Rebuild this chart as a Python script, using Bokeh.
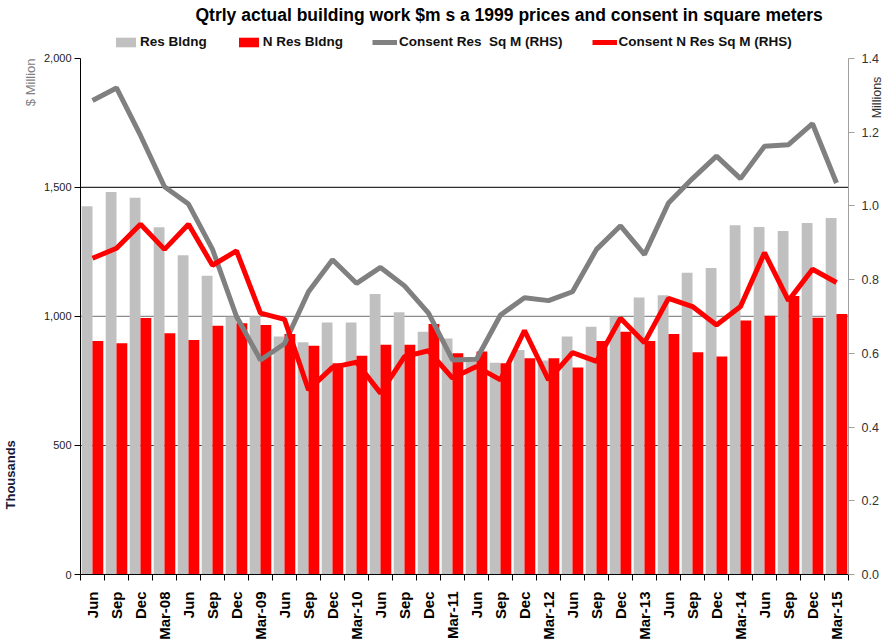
import math
from bokeh.plotting import figure
from bokeh.models import (Range1d, LinearAxis, FixedTicker, NumeralTickFormatter,
                          Span, Title, Legend, LegendItem, ColumnDataSource)
from bokeh.embed import file_html
from bokeh.resources import INLINE

categories = ["Jun", "Sep", "Dec", "Mar-08", "Jun", "Sep", "Dec", "Mar-09",
              "Jun", "Sep", "Dec", "Mar-10", "Jun", "Sep", "Dec", "Mar-11",
              "Jun", "Sep", "Dec", "Mar-12", "Jun", "Sep", "Dec", "Mar-13",
              "Jun", "Sep", "Dec", "Mar-14", "Jun", "Sep", "Dec", "Mar-15"]

res_bldng = [1427, 1482, 1460, 1346, 1237, 1158, 999, 1000, 922, 900, 977, 977,
             1087, 1016, 941, 915, 825, 821, 870, 829, 922, 960, 999, 1074,
             1082, 1169, 1188, 1354, 1347, 1331, 1362, 1382]

n_res_bldng = [905, 896, 994, 935, 909, 964, 974, 967, 932, 887, 819, 848,
               890, 890, 971, 857, 864, 819, 838, 838, 802, 905, 941, 905,
               932, 861, 845, 984, 1003, 1079, 995, 1010]

consent_res = [1.286, 1.320, 1.191, 1.052, 1.005, 0.882, 0.700, 0.582, 0.626,
               0.767, 0.854, 0.790, 0.833, 0.783, 0.709, 0.582, 0.584, 0.704,
               0.751, 0.743, 0.767, 0.882, 0.946, 0.868, 1.008, 1.074, 1.135,
               1.074, 1.162, 1.166, 1.223, 1.062]

consent_nres = [0.858, 0.885, 0.950, 0.882, 0.950, 0.839, 0.878, 0.709, 0.692,
                0.501, 0.562, 0.576, 0.492, 0.591, 0.607, 0.533, 0.564, 0.528,
                0.662, 0.528, 0.602, 0.578, 0.695, 0.629, 0.749, 0.727, 0.677,
                0.727, 0.873, 0.743, 0.828, 0.792]

left_ticks = [0, 500, 1000, 1500, 2000]
right_ticks = [0.0, 0.2, 0.4, 0.6, 0.8, 1.0, 1.2, 1.4]
LEFT_MAX = 2000
RIGHT_MAX = 1.4

FONT = "Liberation Sans, Arial, sans-serif"
GREY_BAR = "#C0C0C0"
RED = "#FF0000"
GREY_LINE = "#808080"

# layout (pixels)
W, H = 894, 642
FR_LEFT, FR_RIGHT, FR_TOP, FR_BOTTOM = 78, 849, 30, 575
AXIS_TOP = 58              # where the value axes end (2,000 / 1.4)
axis_px = FR_BOTTOM - AXIS_TOP
extra = (AXIS_TOP - FR_TOP) / axis_px   # frame space above the axes (legend lives there)
MILLIONS_AT = RIGHT_MAX * (FR_BOTTOM - 118) / axis_px   # start of the "Millions" unit label

n = len(categories)
idx = list(range(n))

src = ColumnDataSource(dict(
    xg=[i + 0.275 for i in idx],
    xr=[i + 0.725 for i in idx],
    xc=[i + 0.5 for i in idx],
    res=res_bldng, nres=n_res_bldng,
    cres=consent_res, cnres=consent_nres,
))

p = figure(width=W, height=H, output_backend="svg", toolbar_location=None,
           x_range=Range1d(0, n), y_range=Range1d(0, LEFT_MAX * (1 + extra)),
           min_border_left=FR_LEFT, min_border_right=W - FR_RIGHT,
           min_border_top=FR_TOP, min_border_bottom=H - FR_BOTTOM)
p.extra_y_ranges = {"rhs": Range1d(0, RIGHT_MAX * (1 + extra))}
p.outline_line_color = None
p.xgrid.visible = False
p.ygrid.visible = False
p.background_fill_color = "white"
p.border_fill_color = "white"

# gridlines
for v, c in zip([500, 1000, 1500], ["#404040", "#8C8C8C", "#303030"]):
    p.add_layout(Span(location=v, dimension="width", line_color=c,
                      line_width=1.2, level="underlay"))

r_res = p.vbar(x="xg", top="res", width=0.45, bottom=0, source=src,
               fill_color=GREY_BAR, line_color=None)
r_nres = p.vbar(x="xr", top="nres", width=0.45, bottom=0, source=src,
                fill_color=RED, line_color=None)
r_cres = p.line(x="xc", y="cres", source=src, y_range_name="rhs",
                line_color=GREY_LINE, line_width=5)
r_cnres = p.line(x="xc", y="cnres", source=src, y_range_name="rhs",
                 line_color=RED, line_width=5)

# x axis
xa = p.xaxis[0]
xa.ticker = FixedTicker(ticks=[i + 0.5 for i in idx], minor_ticks=list(range(n + 1)))
xa.major_label_overrides = {i + 0.5: categories[i] for i in idx}
xa.major_label_orientation = math.pi / 2
xa.major_tick_line_color = None
xa.major_tick_out = 0
xa.major_tick_in = 0
xa.minor_tick_in = 0
xa.minor_tick_out = 6
xa.minor_tick_line_color = "#000000"
xa.axis_line_color = "#000000"
xa.major_label_standoff = 11
xa.major_label_text_font = FONT
xa.major_label_text_font_style = "bold"
xa.major_label_text_font_size = "15px"
xa.major_label_text_color = "#000000"

# left axis
ya = p.yaxis[0]
ya.bounds = (0, LEFT_MAX)
ya.ticker = FixedTicker(ticks=left_ticks)
ya.formatter = NumeralTickFormatter(format="0,0")
ya.axis_line_color = "#000000"
ya.major_tick_line_color = "#000000"
ya.major_tick_out = 6
ya.major_tick_in = 0
ya.minor_tick_line_color = None
ya.major_label_standoff = 3
ya.major_label_text_font = FONT
ya.major_label_text_font_size = "11px"
ya.major_label_text_color = "#222222"

# right axis
ra = LinearAxis(y_range_name="rhs", ticker=FixedTicker(ticks=right_ticks),
                formatter=NumeralTickFormatter(format="0.0"), bounds=(0, RIGHT_MAX))
ra.axis_line_color = "#A0A0A0"
ra.major_tick_line_color = "#A0A0A0"
ra.major_tick_out = 6
ra.major_tick_in = 0
ra.minor_tick_line_color = None
ra.major_label_standoff = 7
ra.major_label_text_font = FONT
ra.major_label_text_font_size = "12.5px"
ra.major_label_text_color = "#333333"
p.add_layout(ra, "right")

# "Millions" unit label near the top of the right axis (a single tick label)
ma = LinearAxis(y_range_name="rhs", ticker=FixedTicker(ticks=[MILLIONS_AT]))
ma.major_label_overrides = {MILLIONS_AT: "Millions"}
ma.major_label_orientation = math.pi / 2
ma.axis_line_color = None
ma.major_tick_line_color = None
ma.major_tick_out = 0
ma.major_tick_in = 0
ma.minor_tick_line_color = None
ma.major_label_standoff = -4
ma.major_label_text_font = FONT
ma.major_label_text_font_size = "12.5px"
ma.major_label_text_color = "#333333"
p.add_layout(ma, "right")

# left unit labels
p.add_layout(Title(text="$ Million", align="right", offset=AXIS_TOP - FR_TOP,
                   standoff=6, text_font=FONT, text_font_style="normal",
                   text_font_size="13px", text_color="#808080"), "left")
p.add_layout(Title(text="Thousands", align="left", offset=65, standoff=0,
                   text_font=FONT, text_font_style="bold",
                   text_font_size="13px", text_color="#1A1A3A"), "left")

legend = Legend(items=[
    LegendItem(label="Res Bldng", renderers=[r_res]),
    LegendItem(label="N Res Bldng", renderers=[r_nres]),
    LegendItem(label="Consent Res  Sq M (RHS)", renderers=[r_cres]),
    LegendItem(label="Consent N Res Sq M (RHS)", renderers=[r_cnres]),
], orientation="horizontal", location=(33, FR_BOTTOM - 50))
legend.border_line_color = None
legend.background_fill_alpha = 0
legend.label_text_font = FONT
legend.label_text_font_style = "bold"
legend.label_text_font_size = "13.5px"
legend.label_text_color = "#111111"
legend.glyph_width = 25
legend.glyph_height = 12
legend.label_standoff = 2
legend.spacing = 29
legend.padding = 4
legend.margin = 0
p.add_layout(legend)

p.title.text = "Qtrly actual building work $m s a 1999 prices  and consent in square meters"
p.title.text_font = FONT
p.title.text_font_style = "bold"
p.title.text_font_size = "17.5px"
p.title.text_color = "#000000"
p.title.align = "left"
p.title.offset = 115
p.title.standoff = 8
p.title.vertical_align = "top"

open("out.html", "w").write(file_html(p, INLINE))
